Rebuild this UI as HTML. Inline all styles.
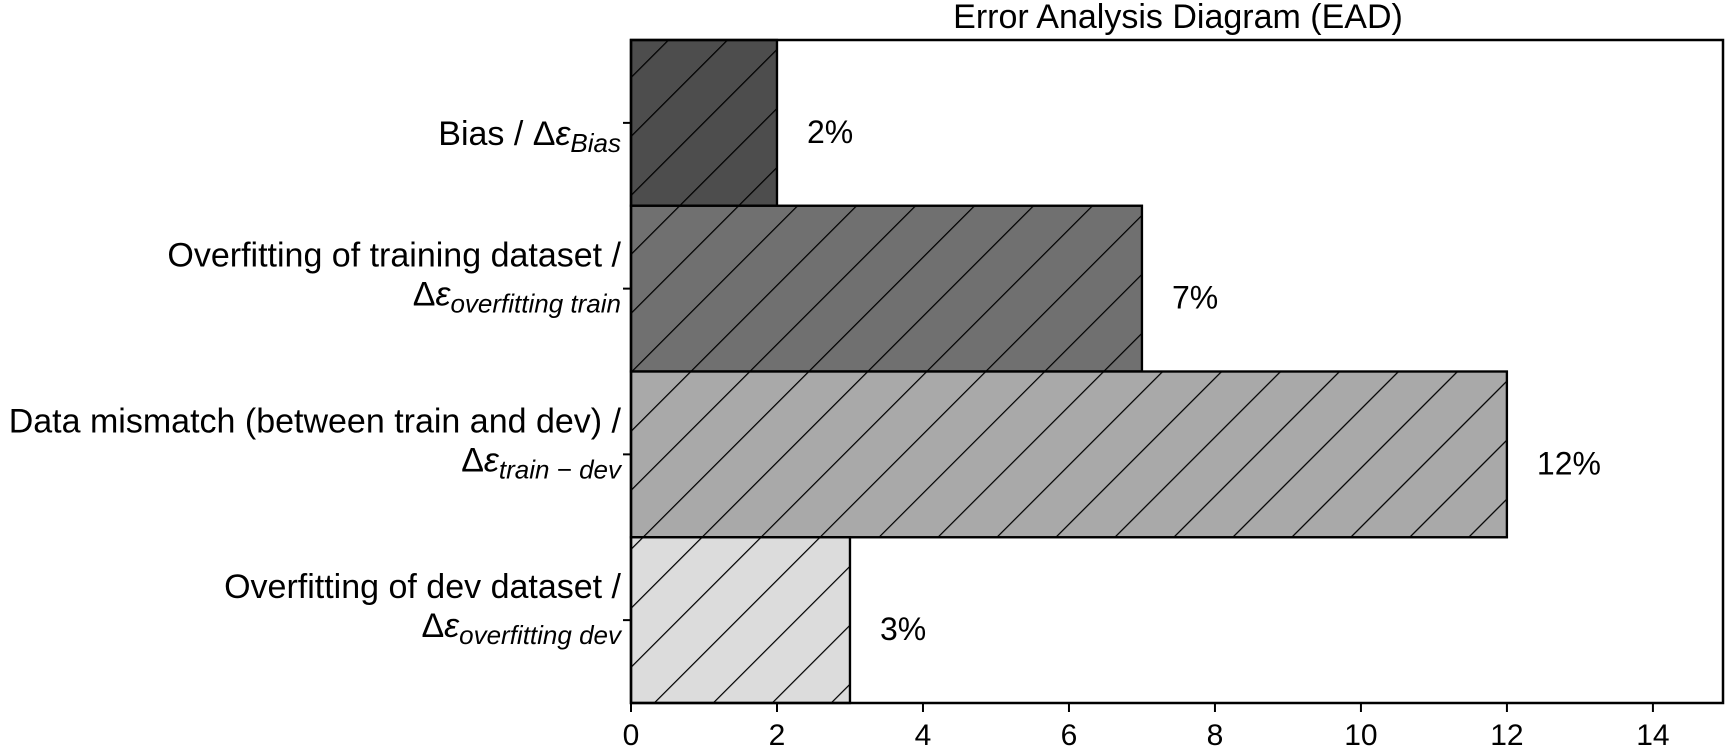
<!DOCTYPE html>
<html><head><meta charset="utf-8"><style>
html,body{margin:0;padding:0;background:#fff;}
svg{display:block;font-family:"Liberation Sans","DejaVu Sans",sans-serif;}
</style></head><body>
<svg id="chart" width="1726" height="747" viewBox="0 0 1726 747">
<defs>
<pattern id="hatch" patternUnits="userSpaceOnUse" width="41.7" height="41.7" patternTransform="rotate(45)">
<line x1="0" y1="0" x2="0" y2="41.7" stroke="#000" stroke-width="2.5"/>
</pattern>
</defs>
<text x="1178" y="28" font-size="34" text-anchor="middle">Error Analysis Diagram (EAD)</text>
<g id="bars"></g>
<g id="labels"></g>
<g id="xaxis"></g>
<rect x="631" y="40" width="1092" height="663" fill="none" stroke="#000" stroke-width="2.5"/>
</svg>
<script>
const categories = ["Bias", "Overfitting train", "Train-dev mismatch", "Overfitting dev"];
const values = [2, 7, 12, 3];
const valueLabels = ["2%", "7%", "12%", "3%"];
const xTicks = [0, 2, 4, 6, 8, 10, 12, 14];
const fills = ["#4d4d4d", "#707070", "#a9a9a9", "#dcdcdc"];

const NS = "http://www.w3.org/2000/svg";
const L = 631, R = 1723, T = 40, B = 703, XMAX = 14.96;
const xs = v => L + v / XMAX * (R - L);
const band = (B - T) / categories.length;
const ys = i => T + i * band;
function mk(tag, attrs, parent){const e=document.createElementNS(NS,tag);for(const k in attrs)e.setAttribute(k,attrs[k]);parent.appendChild(e);return e;}
const gb = document.getElementById('bars');
values.forEach((v,i)=>{
  const r = mk('rect',{x:xs(0),y:ys(i),width:xs(v)-xs(0),height:band,fill:fills[i],stroke:'#000','stroke-width':2.2},gb);
  
  
  const h = mk('rect',{x:xs(0),y:ys(i),width:xs(v)-xs(0),height:band,fill:'url(#hatch)',stroke:'#000','stroke-width':2.2},gb);
  
  
  const t = mk('text',{x:xs(v)+30,y:ys(i)+band/2+20,'font-size':32},gb);
  t.textContent = valueLabels[i];
  
  
  const tk = mk('line',{x1:L-8,x2:L,y1:ys(i)+band/2,y2:ys(i)+band/2,stroke:'#000','stroke-width':2},gb);
  
  
});
const gx = document.getElementById('xaxis');
xTicks.forEach(t=>{
  const l = mk('line',{x1:xs(t),x2:xs(t),y1:B,y2:B+9,stroke:'#000','stroke-width':2},gx);
  
  
  const tx = mk('text',{x:xs(t),y:B+42,'font-size':30,'text-anchor':'middle'},gx);
  tx.textContent = t;
  
  
});
const ylab = [
  [["Bias / Δ","ε","Bias"]],
  [["Overfitting of training dataset /"],["Δ","ε","overfitting train"]],
  [["Data mismatch (between train and dev) /"],["Δ","ε","train − dev"]],
  [["Overfitting of dev dataset /"],["Δ","ε","overfitting dev"]]
];
const gl = document.getElementById('labels');
ylab.forEach((lines,i)=>{
  const cy = ys(i)+band/2;
  lines.forEach((ln,j)=>{
    const y = lines.length===1 ? cy+22 : (j===0 ? cy-22 : cy+17);
    const t = mk('text',{x:621,y:y,'font-size':34,'text-anchor':'end'},gl);
    
    
    if(ln.length===1){t.textContent=ln[0];}
    else{
      const a=mk('tspan',{},t);a.textContent=ln[0];
      const b=mk('tspan',{'font-style':'italic'},t);b.textContent=ln[1];
      const c=mk('tspan',{'font-style':'italic','font-size':26,dy:7},t);c.textContent=ln[2];
    }
  });
});
</script>
</body></html>
